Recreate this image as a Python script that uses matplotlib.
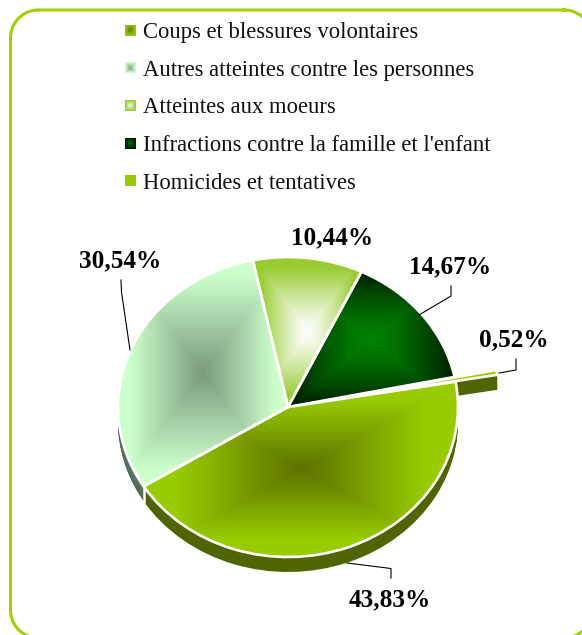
import numpy as np
import matplotlib
matplotlib.use("Agg")
import matplotlib.pyplot as plt
from matplotlib.colors import to_rgb
from matplotlib.legend_handler import HandlerBase
from matplotlib.patches import Patch, Rectangle

categories = ["Coups et blessures volontaires", "Autres atteintes contre les personnes",
              "Atteintes aux moeurs", "Infractions contre la famille et l'enfant",
              "Homicides et tentatives"]
values = [43.83, 30.54, 10.44, 14.67, 0.52]
center_colors = ["#5c7300", "#7a9a7c", "#ffffff", "#008000", "#99cc00"]
edge_colors = ["#99cc00", "#ccffcc", "#99cc33", "#001a00", "#99cc00"]
wall_colors = ["#4f6600", "#4a6a58", "#4f6600", "#003300", "#4f6600"]
grad_reach = [0.8, 0.85, 0.85, 1.0, 1.0]
grad_power = [1.0, 1.0, 1.2, 1.5, 1.0]
explode = [0, 0, 0, 0, 0.25]
label_px = [(390, 600), (120, 261), (332, 238), (450, 266.5), (514, 340)]
leaders_px = [[(391, 578), (391, 568.5), (347, 563)],
              [(121, 280), (121.5, 292), (130, 350)],
              [],
              [(451, 286), (451, 296), (419, 315)],
              [(516, 359), (516, 370), (499, 373)]]
W, H = 582, 635
CX, CY, RX, RY = 288, 407, 170, 150
DEPTH = 15
START = 9.7
GREEN = "#a2d000"

fig = plt.figure(figsize=(W / 100, H / 100), dpi=100, facecolor="white")

# pixel-space axes for the outer rounded frame
ax0 = fig.add_axes([0, 0, 1, 1], zorder=0)
ax0.set_xlim(0, W)
ax0.set_ylim(H, 0)
ax0.axis("off")
L, T, R, B, RAD = 10.5, 10, 592, 638, 28
arc = np.linspace(0, np.pi / 2, 30)
fx = np.concatenate([R - RAD + RAD * np.sin(arc), R - RAD + RAD * np.cos(arc),
                     L + RAD - RAD * np.sin(arc), L + RAD - RAD * np.cos(arc), [R - RAD]])
fy = np.concatenate([T + RAD - RAD * np.cos(arc), B - RAD + RAD * np.sin(arc),
                     B - RAD + RAD * np.cos(arc), T + RAD - RAD * np.sin(arc), [T]])
ax0.plot(fx, fy, color=GREEN, lw=2.2, clip_on=True)

ax = fig.add_axes([0, 0, 1, 1], zorder=1)
ax.patch.set_alpha(0)


def px(x, y):
    return (x - CX) / RX, (CY - y) / RY


def mix(c0, c1, t):
    a, b = np.array(to_rgb(c0)), np.array(to_rgb(c1))
    return a + (b - a) * t


# side walls: stacked pies, deepest first
for d in range(DEPTH, 2, -1):
    w, _ = ax.pie(values, explode=explode, startangle=START, counterclock=False,
                  center=(0, -d / RY), radius=1, colors=wall_colors, frame=False,
                  wedgeprops=dict(linewidth=0))
    for p in w:
        p.set_zorder(1)
    w[1].set_facecolor(mix("#4a6a58", "#9ab8a4", (DEPTH - d) / DEPTH * 0.3))

# top faces
wedges, _ = ax.pie(values, explode=explode, startangle=START, counterclock=False,
                   radius=1, colors=center_colors, frame=False,
                   wedgeprops=dict(linewidth=0))
ax.set_aspect("auto")
for i, w in enumerate(wedges):
    bb = w.get_path().get_extents()
    n = 240
    u, v = np.meshgrid(np.linspace(-1, 1, n), np.linspace(-1, 1, n))
    t = np.clip(np.maximum(np.abs(u), np.abs(v)) / grad_reach[i], 0, 1) ** grad_power[i]
    t = t[..., None]
    img = np.array(to_rgb(center_colors[i])) * (1 - t) + np.array(to_rgb(edge_colors[i])) * t
    im = ax.imshow(img, extent=(bb.x0, bb.x1, bb.y0, bb.y1), origin="lower",
                   aspect="auto", zorder=3, interpolation="bilinear")
    w.set_facecolor("none")
    w.set_edgecolor("white")
    w.set_linewidth(1.9)
    w.set_zorder(4)
    im.set_clip_path(w)

# white gap between the two walls
theta = np.deg2rad(START - 360 * values[0] / sum(values))
gx, gy = np.cos(theta), np.sin(theta)
ax.plot([gx, gx], [gy, gy - (DEPTH + 1) / RY], color="white", lw=1.8, zorder=2)

# data labels and leader lines
for v, (lx, ly), pts in zip(values, label_px, leaders_px):
    x, y = px(lx, ly)
    ax.text(x, y, f"{v:.2f}".replace(".", ",") + "%", ha="center", va="center",
            family="Liberation Serif", weight="bold", fontsize=18.2, color="black", zorder=6)
    if pts:
        q = np.array([px(*p) for p in pts])
        ax.plot(q[:, 0], q[:, 1], color="black", lw=0.8, zorder=5, solid_joinstyle="miter")


class GradientSquare(HandlerBase):
    def __init__(self, c0, c1):
        super().__init__()
        self.c0, self.c1 = c0, c1

    def create_artists(self, legend, orig, xd, yd, width, height, fontsize, trans):
        side = 11 / 100 * 72
        x0 = -xd + (width - side) / 2
        y0 = -yd + (height - side) / 2
        arts = []
        steps = 6
        for k in range(steps):
            inset = k * side / (2 * steps)
            arts.append(Rectangle((x0 + inset, y0 + inset), side - 2 * inset, side - 2 * inset,
                                  facecolor=mix(self.c1, self.c0, 0.8 * k / (steps - 1)),
                                  edgecolor="none", transform=trans))
        return arts


handles = [Patch(label=c) for c in categories]
hmap = {h: GradientSquare(center_colors[i], edge_colors[i]) for i, h in enumerate(handles)}
leg = ax.legend(handles=handles, handler_map=hmap, loc="upper left",
                bbox_to_anchor=(119 / W, 1 - 22 / H), bbox_transform=fig.transFigure,
                frameon=False, borderpad=0, borderaxespad=0, labelspacing=0.737,
                handlelength=1.0, handleheight=0.7, handletextpad=0.06,
                prop=dict(family="Liberation Serif", size=16.3))
leg.set_zorder(6)
for txt in leg.get_texts():
    txt.set_color("#111111")

ax.set_xlim(-CX / RX, (W - CX) / RX)
ax.set_ylim((CY - H) / RY, CY / RY)
ax.axis("off")
fig.savefig("out.png", dpi=100, facecolor="white")
